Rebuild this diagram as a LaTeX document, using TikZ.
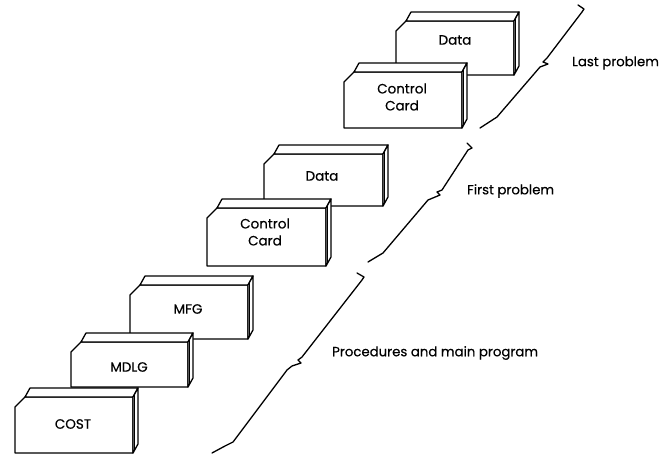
\documentclass[tikz,border=0pt]{standalone}
\usepackage{fontspec}
\setmainfont{Poppins}
\newfontfamily\lblfont{Poppins}[FakeBold=0.4]
\begin{document}
\begin{tikzpicture}[x=1pt,y=-1pt,line join=round,line cap=round,
  edge/.style={line width=1.3pt,black},
  face/.style={edge,fill=white},
  lbl/.style={font=\lblfont\fontsize{13.3}{14}\selectfont,inner sep=0pt,anchor=west},
  ctext/.style={font=\lblfont\fontsize{13.5}{17}\selectfont,inner sep=0pt,align=center}]
\useasboundingbox (0,0) rectangle (672,455);
% card: L T R B
\newcommand{\mycard}[4]{%
  \draw[face] (#1,#4) -- (#1,#2+10) -- (#1+10,#2) -- (#3,#2) -- (#3,#4) -- cycle;
  \draw[face] (#1+10,#2) -- (#1+15,#2-9) -- (#3+5,#2-9) -- (#3,#2) -- cycle;
  \draw[face] (#3,#2) -- (#3+5,#2-9) -- (#3+5,#4-9) -- (#3,#4) -- cycle;
  \draw[line width=0.6pt] (#3+1.6,#2-2.2) -- (#3+1.6,#4-2.2);
}
\mycard{396}{21}{514}{75}
\node[ctext] (data2) at (455,40) {Data};
\mycard{344}{72}{462}{128}
\node[ctext] (cc2) at (402,97) {Control\\Card};
\mycard{264}{154}{383}{206}
\node[ctext] (data1) at (322,176) {Data};
\mycard{207}{208}{326}{266}
\node[ctext] (cc1) at (265,232) {Control\\Card};
\mycard{130}{285}{248}{339}
\node[ctext] (mfg) at (188,309) {MFG};
\mycard{71}{342}{188}{387}
\node[ctext] (mdlg) at (129,367) {MDLG};
\mycard{15}{397}{133}{453}
\node[ctext] (cost) at (73,424) {COST};
% break lines
\draw[edge] (480,128) -- (497,117) -- (540,67) -- (548,64) -- (543,62) -- (547,58) -- (582,12) -- (584,9) -- (578,5);
\draw[edge] (368,262) -- (383,253) -- (428,200) -- (440,195) -- (437,192) -- (442,190) -- (468,150) -- (472,148) -- (467,143);
\draw[edge] (212,453) -- (225,446) -- (233,442) -- (287,370) -- (292,366) -- (301,363) -- (298,360) -- (302,357) -- (362,280) -- (364,277) -- (357,273);
\node[lbl] (last) at (572,63) {Last problem};
\node[lbl] (first) at (467,191) {First problem};
\node[lbl] (proc) at (332,353) {Procedures and main program};
\end{tikzpicture}
\end{document}
